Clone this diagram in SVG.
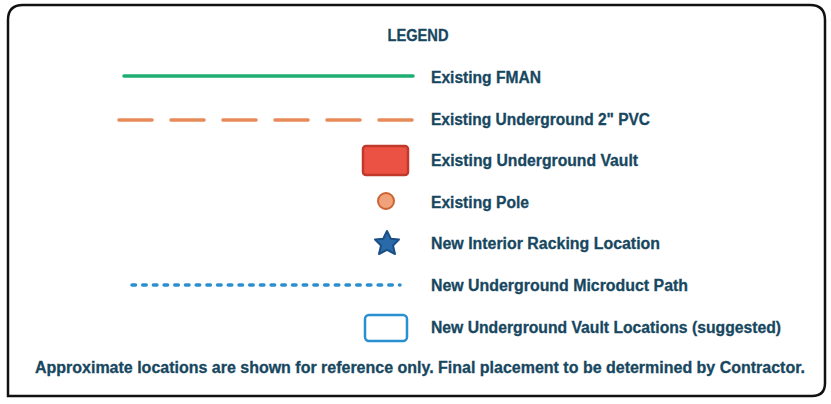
<svg xmlns="http://www.w3.org/2000/svg" width="831" height="404" viewBox="0 0 831 404">
<style>
.t{font-family:"Liberation Sans",Arial,sans-serif;font-weight:bold;fill:#17475f;font-size:16px;stroke:#17475f;stroke-width:0.3}
</style>
<rect width="831" height="404" fill="#ffffff"/>
<g id="frame">
<path d="M8,396 L8,20 Q8,5 23,5 L810,5 Q825,5 825,20 L825,383 Q825,396 812,396 Z" fill="none" stroke="#111" stroke-width="2.5"/>
</g>
<g id="title"><text class="t" x="418" y="41" text-anchor="middle" font-size="14" textLength="61" lengthAdjust="spacingAndGlyphs">LEGEND</text></g>
<g id="connectors">
<line x1="124" y1="76" x2="413" y2="76" stroke="#1fae72" stroke-width="3.5" stroke-linecap="round"/>
<line x1="119" y1="120" x2="413" y2="120" stroke="#e8895a" stroke-width="3.5" stroke-linecap="round" stroke-dasharray="33 19"/>
<line x1="132" y1="285" x2="400" y2="285" stroke="#2a8fd0" stroke-width="3.5" stroke-linecap="round" stroke-dasharray="3.5 7.2"/>
</g>
<g id="vault"><rect x="363" y="146" width="45" height="29" rx="3" fill="#ec5243" stroke="#c0392b" stroke-width="2.5"/></g>
<g id="pole"><circle cx="386" cy="201" r="8" fill="#f2a27a" stroke="#cc6430" stroke-width="2"/></g>
<g id="star"><polygon points="387,231 390.8,238.8 399,239.5 393,245.5 395,254 387,249.8 379,254 381,245.5 375,239.5 383.2,238.8" fill="#2b6aa8" stroke="#1a4f86" stroke-width="2" stroke-linejoin="round"/></g>
<g id="newvault"><rect x="365" y="315" width="42" height="26" rx="4" fill="#ffffff" stroke="#2a8fd0" stroke-width="2.5"/></g>
<g id="labels">
<text class="t" x="431" y="83" textLength="110" lengthAdjust="spacingAndGlyphs">Existing FMAN</text>
<text class="t" x="431" y="125" textLength="219" lengthAdjust="spacingAndGlyphs">Existing Underground 2" PVC</text>
<text class="t" x="431" y="166" textLength="207" lengthAdjust="spacingAndGlyphs">Existing Underground Vault</text>
<text class="t" x="431" y="208" textLength="98" lengthAdjust="spacingAndGlyphs">Existing Pole</text>
<text class="t" x="431" y="249" textLength="229" lengthAdjust="spacingAndGlyphs">New Interior Racking Location</text>
<text class="t" x="431" y="291" textLength="257" lengthAdjust="spacingAndGlyphs">New Underground Microduct Path</text>
<text class="t" x="431" y="333" textLength="350" lengthAdjust="spacingAndGlyphs">New Underground Vault Locations (suggested)</text>
</g>
<g id="note"><text class="t" x="35" y="373" textLength="770" lengthAdjust="spacingAndGlyphs">Approximate locations are shown for reference only. Final placement to be determined by Contractor.</text></g>
</svg>
